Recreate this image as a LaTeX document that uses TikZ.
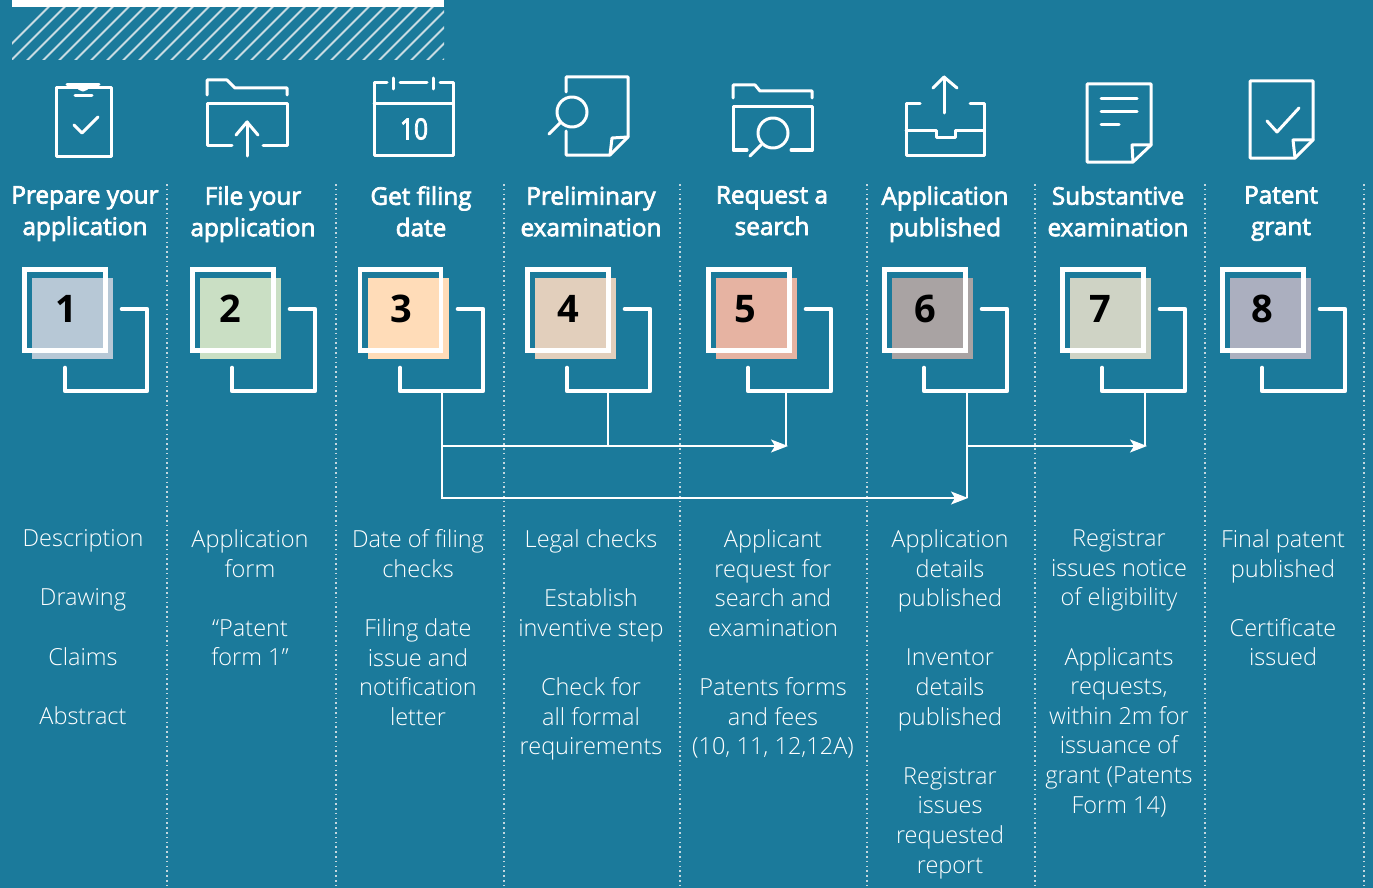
\documentclass[tikz,border=0pt]{standalone}
\usepackage{fontspec}
\setmainfont{Open Sans}
\newfontfamily\lightfont{Open Sans Light}
\newfontfamily\semifont{Open Sans}[FakeBold=3]
\usepackage{tikz}
\usetikzlibrary{arrows.meta}
\definecolor{bluebg}{HTML}{1B7A9B}
\definecolor{hatchgray}{HTML}{C9DCE3}
\definecolor{dotgray}{HTML}{C4D8E0}
\definecolor{stepa}{HTML}{B7C8D6}
\definecolor{stepb}{HTML}{CADFC4}
\definecolor{stepc}{HTML}{FFDCB8}
\definecolor{stepd}{HTML}{E2CFBC}
\definecolor{stepe}{HTML}{E6B3A2}
\definecolor{stepf}{HTML}{A9A3A3}
\definecolor{stepg}{HTML}{CFD3C5}
\definecolor{steph}{HTML}{ABAFBF}
\tikzset{
  icon/.style={draw=white,line width=3pt,line join=round,line cap=round},
  divider/.style={draw=dotgray,line width=1.6pt,dash pattern=on 1.6pt off 3.2pt},
  fillbox/.style={minimum size=81pt,inner sep=0pt,outer sep=0pt},
  framebox/.style={draw=white,line width=4.8pt,minimum size=81pt,inner sep=0pt,outer sep=0pt},
  corner/.style={draw=white,line width=4.6pt,line join=round,line cap=round},
  flow/.style={draw=white,line width=1.5pt},
  flowtip/.style={flow,-{Stealth[length=17pt,width=13pt,inset=4pt]}},
  numtext/.style={font=\fontsize{38}{38}\selectfont\bfseries,text=black,inner sep=0pt},
  headtext/.style={font=\fontsize{24.3}{31.5}\semifont,text=white,align=center,inner sep=0pt,anchor=north,
    execute at begin node={\rule{0pt}{20pt}}},
  bodytext/.style={font=\fontsize{23.5}{29.6}\lightfont,text=white,align=center,inner sep=0pt,anchor=north,
    execute at begin node={\rule{0pt}{20pt}}},
}
\begin{document}
\begin{tikzpicture}[x=1pt,y=-1pt]
\useasboundingbox (0,0) rectangle (1373,888);
\fill[bluebg] (0,0) rectangle (1373,888);
%-------->top bar<--------------
\fill[white] (12,0) rectangle (444,7);
\begin{scope}
\clip (12,8) rectangle (444,60);
\foreach \hx in {-8.5,7.5,...,456}
  \draw[hatchgray,line width=1.8pt] (\hx,64) -- (\hx+60,4);
\end{scope}
%-------->dividers<--------------
\draw[divider] (167,184) -- (167,888);
\draw[divider] (336,184) -- (336,888);
\draw[divider] (504,184) -- (504,888);
\draw[divider] (680,184) -- (680,888);
\draw[divider] (867,184) -- (867,888);
\draw[divider] (1035,184) -- (1035,888);
\draw[divider] (1205,184) -- (1205,888);
\draw[divider] (1364,184) -- (1364,888);
%-------->icons<--------------
% clipboard
\draw[icon] (56,88) rectangle (111,156);
\draw[icon] (67,85) -- (99,85);
\draw[icon] (78,85) arc (180:0:5);
\draw[icon] (75,96) -- (92,96);
\draw[icon] (74,125) -- (82,133) -- (98,117);
% folder with arrow
\draw[icon] (207,95) -- (207,80) -- (227,80) -- (235,88) -- (287,88) -- (287,95);
\draw[icon] (232,146) -- (207,146) -- (207,104) -- (287,104) -- (287,146) -- (263,146);
\draw[icon] (247,156) -- (247,122);
\draw[icon] (236,135) -- (247,122) -- (258,135);
% calendar
\draw[icon] (387,83) -- (374,83) -- (374,155) -- (453,155) -- (453,83) -- (440,83);
\draw[icon] (400,83) -- (427,83);
\draw[icon] (393,78) -- (393,89);
\draw[icon] (433,78) -- (433,89);
\draw[icon] (374,104) -- (453,104);
\node[font=\fontsize{29}{29}\semifont,text=white,inner sep=0pt,xscale=.85] (cal) at (414,129) {10};
% page with glass
\draw[icon] (566,92) -- (566,77) -- (628,77) -- (628,137) -- (610,155) -- (566,155) -- (566,131);
\draw[icon] (628,137) -- (612,138) -- (610,155);
\draw[icon] (572,112) circle (15);
\draw[icon] (549,134) -- (560,123);
% folder with glass
\draw[icon] (733,98) -- (733,85) -- (755,85) -- (760,91) -- (812,91) -- (812,98);
\draw[icon] (747,150) -- (733,150) -- (733,107) -- (812,107) -- (812,150) -- (791,150);
\draw[icon] (773,133) circle (15);
\draw[icon] (750,156) -- (761,145);
% tray
\draw[icon] (944,113) -- (944,77);
\draw[icon] (933,88) -- (944,77) -- (957,88);
\draw[icon] (920,104) -- (906,104) -- (906,155) -- (984,155) -- (984,104) -- (970,104);
\draw[icon] (906,131) -- (936,131) -- (936,138) -- (955,138) -- (955,131) -- (984,131);
% page with lines
\draw[icon] (1087,84) -- (1151,84) -- (1151,145) -- (1133,162) -- (1087,162) -- cycle;
\draw[icon] (1151,145) -- (1132,145) -- (1133,162);
\draw[icon] (1101,99) -- (1137,99);
\draw[icon] (1101,112) -- (1137,112);
\draw[icon] (1101,125) -- (1119,125);
% page with check
\draw[icon] (1250,81) -- (1313,81) -- (1313,140) -- (1295,158) -- (1250,158) -- cycle;
\draw[icon] (1313,140) -- (1293,140) -- (1295,158);
\draw[icon] (1267,121) -- (1277,132) -- (1299,108);
%-------->headings<--------------
\node[headtext] (h1) at (85,186) {Prepare your\\application};
\node[headtext] (h2) at (253,186) {File your\\application};
\node[headtext] (h3) at (421,186) {Get filing\\date};
\node[headtext] (h4) at (591,186) {Preliminary\\examination};
\node[headtext] (h5) at (772,186) {Request a\\search};
\node[headtext] (h6) at (945,186) {Application\\published};
\node[headtext] (h7) at (1118,186) {Substantive\\examination};
\node[headtext] (h8) at (1281,186) {Patent\\grant};
%-------->coloured squares<--------------
\node[fillbox,fill=stepa] (c1) at (72.5,318) {};
\node[fillbox,fill=stepb] (c2) at (240.5,318) {};
\node[fillbox,fill=stepc] (c3) at (408.5,318) {};
\node[fillbox,fill=stepd] (c4) at (575.5,318) {};
\node[fillbox,fill=stepe] (c5) at (756.5,318) {};
\node[fillbox,fill=stepf] (c6) at (932.5,318) {};
\node[fillbox,fill=stepg] (c7) at (1110.5,318) {};
\node[fillbox,fill=steph] (c8) at (1270.5,318) {};
%-------->frames<--------------
\node[framebox] (f1) at (65,310) {};
\node[framebox] (f2) at (233,310) {};
\node[framebox] (f3) at (400.5,310) {};
\node[framebox] (f4) at (568,310) {};
\node[framebox] (f5) at (749,310) {};
\node[framebox] (f6) at (925,310) {};
\node[framebox] (f7) at (1103,310) {};
\node[framebox] (f8) at (1263,310) {};
%-------->numbers<--------------
\node[numtext] (n1) at (66,309) {1};
\node[numtext] (n2) at (230,309) {2};
\node[numtext] (n3) at (401,309) {3};
\node[numtext] (n4) at (568,309) {4};
\node[numtext] (n5) at (745,309) {5};
\node[numtext] (n6) at (925,309) {6};
\node[numtext] (n7) at (1100,309) {7};
\node[numtext] (n8) at (1262,309) {8};
%-------->corners<--------------
\draw[corner] (65,368) |- (147,391) |- (122,309);
\draw[corner] (232,368) |- (315,391) |- (290,309);
\draw[corner] (400,368) |- (483,391) |- (458,309);
\draw[corner] (567,368) |- (650,391) |- (625,309);
\draw[corner] (748,368) |- (831,391) |- (806,309);
\draw[corner] (924,368) |- (1007,391) |- (982,309);
\draw[corner] (1102,368) |- (1185,391) |- (1160,309);
\draw[corner] (1262,368) |- (1345,391) |- (1320,309);
%-------->connectors<--------------
\coordinate (b3) at (442,393);
\coordinate (b4) at (608,393);
\coordinate (b5) at (786,393);
\coordinate (b6) at (967,393);
\coordinate (b7) at (1145,393);
\coordinate (p3) at (442,446);
\coordinate (p4) at (608,446);
\coordinate (p5) at (786,446);
\coordinate (p6) at (967,446);
\coordinate (p7) at (1145,446);
\coordinate (e5) at (788,446);
\coordinate (e7) at (1147,446);
\coordinate (e6) at (968,498);
\coordinate (q6) at (967,498);
\draw[flow] (b4) -- (p4);
\draw[flow] (b5) -- (p5);
\draw[flow] (b7) -- (p7);
\draw[flowtip] (p3) -- (e5);
\draw[flowtip] (p6) -- (e7);
\draw[flow] (b6) -- (q6);
\draw[flowtip] (b3) |- (e6);
%-------->texts<--------------
\node[bodytext] (t1) at (83,529.5) {Description\\[29.6pt]Drawing\\[29.6pt]Claims\\[29.6pt]Abstract};
\node[bodytext] (t2) at (250,529.5) {Application\\form\\[29.6pt]“Patent\\form 1”};
\node[bodytext] (t3) at (418,529.5) {Date of filing\\checks\\[29.6pt]Filing date\\issue and\\notification\\letter};
\node[bodytext] (t4) at (591,529.5) {Legal checks\\[29.6pt]Establish\\inventive step\\[29.6pt]Check for\\all formal\\requirements};
\node[bodytext] (t5) at (773,529.5) {Applicant\\request for\\search and\\examination\\[29.6pt]Patents forms\\and fees\\(10, 11, 12,12A)};
\node[bodytext] (t6) at (950,529.5) {Application\\details\\published\\[29.6pt]Inventor\\details\\published\\[29.6pt]Registrar\\issues\\requested\\report};
\node[bodytext] (t7) at (1119,529.5) {Registrar\\issues notice\\of eligibility\\[29.6pt]Applicants\\requests,\\within 2m for\\issuance of\\grant (Patents\\Form 14)};
\node[bodytext] (t8) at (1283,529.5) {Final patent\\published\\[29.6pt]Certificate\\issued};
\end{tikzpicture}
\end{document}
